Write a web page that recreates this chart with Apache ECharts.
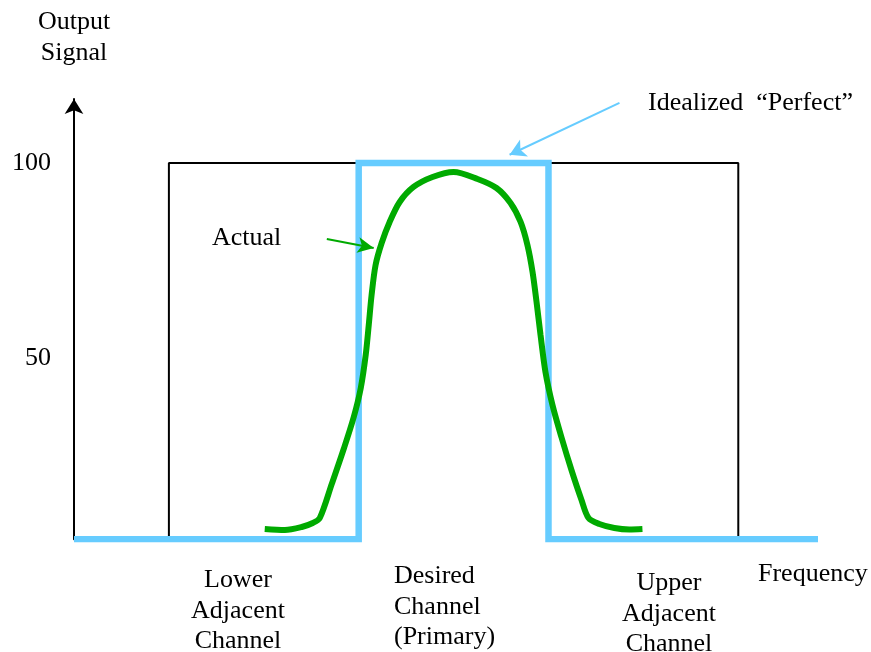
<!DOCTYPE html>
<html>
<head>
<meta charset="utf-8">
<script src="https://cdn.jsdelivr.net/npm/echarts@6/dist/echarts.min.js"></script>
<style>html,body{margin:0;padding:0;background:#fff}#c{width:871px;height:652px}</style>
</head>
<body>
<div id="c"></div>
<script>
// ---- data ----
const yTickLabels = [50, 100];
const baseline = 3.5;
// black outline spanning the three channels
const channelOutline = [[5, baseline], [5, 100], [35, 100], [35, baseline]];
// idealized "perfect" response
const idealResponse = [[0, baseline], [15, baseline], [15, 100], [25, 100], [25, baseline], [39.2, baseline]];
// actual response
const actualResponse = [
  [10.05, 6.15], [11.11, 5.9], [12.0, 6.67], [12.58, 7.69], [12.95, 8.97],
  [13.58, 17.69], [14.21, 26.67], [14.74, 34.87], [15.11, 42.31], [15.37, 50.77],
  [15.53, 58.46], [15.68, 66.15], [15.89, 73.85], [16.21, 79.49], [16.63, 84.87],
  [17.16, 90.0], [17.89, 93.85], [18.89, 96.41], [20.0, 97.69], [21.26, 95.9],
  [22.26, 93.59], [23.0, 89.74], [23.53, 84.87], [23.89, 78.97], [24.16, 72.05],
  [24.37, 64.36], [24.58, 55.9], [24.84, 46.41], [25.21, 37.95], [25.68, 29.74],
  [26.21, 21.28], [26.74, 13.59], [27.11, 8.97], [27.68, 7.44], [28.47, 6.41],
  [29.26, 6.03], [29.95, 6.15]
];
const actualArrow = [[13.32, 80.5], [15.79, 78.2]];
const idealArrow = [[28.74, 115.4], [22.95, 102.1]];
const categoryLabels = ['Lower\nAdjacent\nChannel', 'Desired\nChannel\n(Primary)', 'Upper\nAdjacent\nChannel'];
const axisTitleX = 'Frequency';
const axisTitleY = 'Output\nSignal';
const annotIdeal = 'Idealized  \u201cPerfect\u201d';
const annotActual = 'Actual';

const FONT = '"Liberation Serif", "Times New Roman", serif';
const FS = 26;
const chart = echarts.init(document.getElementById('c'));
const txt = (text, x, y, align, va) => ({
  type: 'text', x: x, y: y,
  style: { text: text, fontFamily: FONT, fontSize: FS, fill: '#000', align: align, verticalAlign: va, lineHeight: 30.5 }
});
chart.setOption({
  animation: false,
  grid: { left: 74, right: 53, top: 99, bottom: 112.65, containLabel: false },
  xAxis: {
    type: 'value', min: 0, max: 39.2,
    axisLine: { show: false }, axisTick: { show: false }, axisLabel: { show: false }, splitLine: { show: false }
  },
  yAxis: {
    type: 'value', min: baseline, max: 116.4,
    axisLine: { show: true, lineStyle: { color: '#000', width: 2 }, symbol: ['none', 'arrow'], symbolSize: [14, 15] },
    axisTick: { show: false },
    splitLine: { show: false },
    axisLabel: { show: true, customValues: yTickLabels, margin: 23, fontFamily: FONT, fontSize: FS, color: '#000' }
  },
  series: [
    {
      type: 'line', data: channelOutline, symbol: 'none', silent: true,
      lineStyle: { color: '#000', width: 2 }, z: 1
    },
    {
      type: 'line', data: idealResponse, symbol: 'none', silent: true,
      lineStyle: { color: '#66CCFF', width: 6.5, join: 'miter' }, z: 2,
      markLine: {
        silent: true, symbol: ['none', 'arrow'], symbolSize: [14, 16],
        label: { show: false },
        lineStyle: { color: '#66CCFF', width: 2, type: 'solid' },
        data: [[{ coord: idealArrow[0] }, { coord: idealArrow[1] }]]
      }
    },
    {
      type: 'line', data: actualResponse, symbol: 'none', silent: true, smooth: 0.3,
      lineStyle: { color: '#00AA00', width: 6 }, z: 3,
      markLine: {
        silent: true, symbol: ['none', 'arrow'], symbolSize: [12, 16],
        label: { show: false },
        lineStyle: { color: '#00AA00', width: 2, type: 'solid' },
        data: [[{ coord: actualArrow[0] }, { coord: actualArrow[1] }]]
      }
    }
  ],
  graphic: [
    txt(axisTitleY, 74, 7, 'center', 'top'),
    txt(annotIdeal, 648, 103, 'left', 'middle'),
    txt(annotActual, 212, 238, 'left', 'middle'),
    txt(categoryLabels[0], 238, 565, 'center', 'top'),
    txt(categoryLabels[1], 394, 561, 'left', 'top'),
    txt(categoryLabels[2], 669, 568, 'center', 'top'),
    txt(axisTitleX, 758, 574, 'left', 'middle')
  ]
});
</script>
</body>
</html>
